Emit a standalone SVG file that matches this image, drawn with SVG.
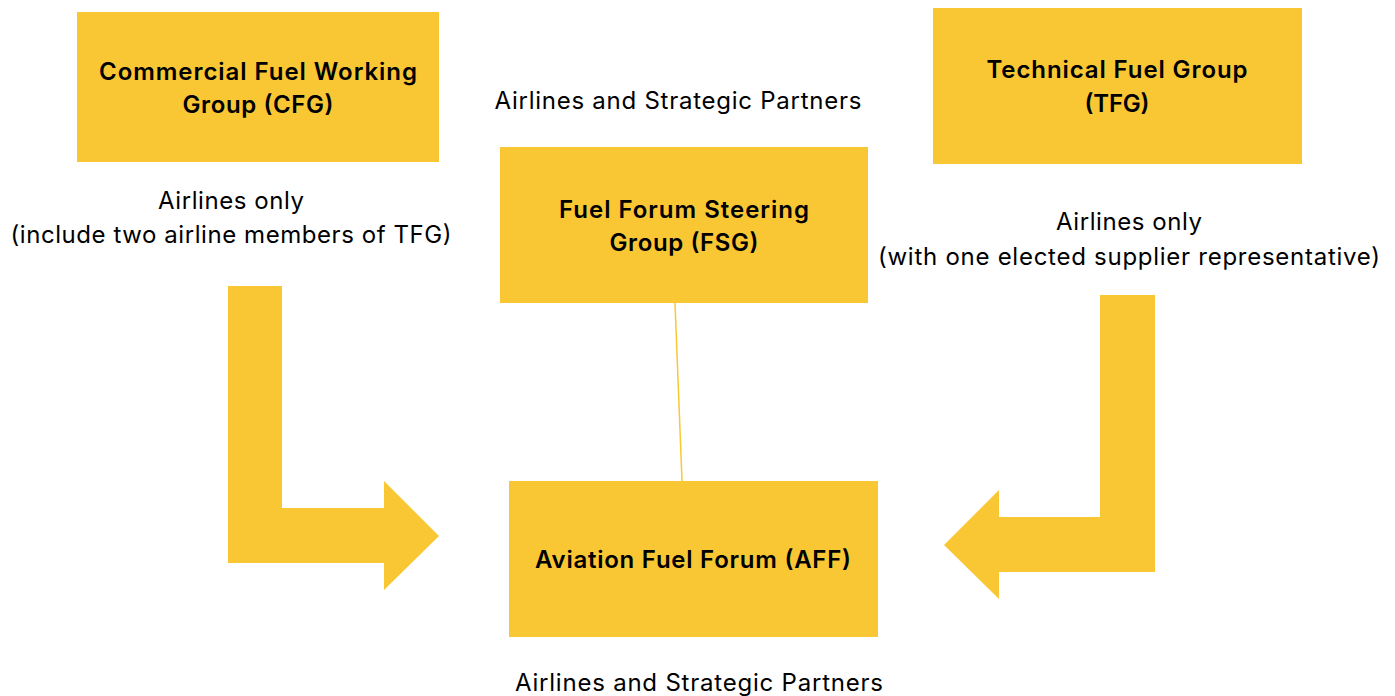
<svg xmlns="http://www.w3.org/2000/svg" width="1395" height="696" viewBox="0 0 1395 696">
<style>
.box{fill:#F9C733}
.arrow{fill:#F9C733}
.t{font-family:Inter,"Liberation Sans",sans-serif;font-size:24px;fill:#000;text-anchor:middle}
.b{font-weight:600}
</style>
<rect width="1395" height="696" fill="#fff"/>
<g id="connectors">
<polygon class="arrow" points="228,286 282,286 282,508 384,508 384,481 439,536 384,590 384,563 228,563"/>
<polygon class="arrow" points="1100,295 1155,295 1155,572 999,572 999,599 944,545 999,490 999,517 1100,517"/>
<line x1="675" y1="303" x2="682" y2="481" stroke="#F9C733" stroke-width="1.5"/>
</g>
<g id="cfg">
<rect class="box" x="77" y="12" width="362" height="150"/>
<text class="t b" x="258" y="80" textLength="318" lengthAdjust="spacing">Commercial Fuel Working</text>
<text class="t b" x="258" y="113" textLength="151" lengthAdjust="spacing">Group (CFG)</text>
</g>
<g id="tfg">
<rect class="box" x="933" y="8" width="369" height="156"/>
<text class="t b" x="1117" y="78" textLength="261" lengthAdjust="spacing">Technical Fuel Group</text>
<text class="t b" x="1117" y="112" textLength="65" lengthAdjust="spacing">(TFG)</text>
</g>
<g id="fsg">
<rect class="box" x="500" y="147" width="368" height="156"/>
<text class="t b" x="684" y="218" textLength="250" lengthAdjust="spacing">Fuel Forum Steering</text>
<text class="t b" x="684" y="251" textLength="149" lengthAdjust="spacing">Group (FSG)</text>
</g>
<g id="aff">
<rect class="box" x="509" y="481" width="369" height="156"/>
<text class="t b" x="693" y="568" textLength="316" lengthAdjust="spacing">Aviation Fuel Forum (AFF)</text>
</g>
<g id="labels">
<text class="t" x="678" y="109" textLength="367" lengthAdjust="spacing">Airlines and Strategic Partners</text>
<text class="t" x="231" y="209" textLength="146" lengthAdjust="spacing">Airlines only</text>
<text class="t" x="231" y="243" textLength="441" lengthAdjust="spacing">(include two airline members of TFG)</text>
<text class="t" x="1129" y="230" textLength="146" lengthAdjust="spacing">Airlines only</text>
<text class="t" x="1129" y="265" textLength="502" lengthAdjust="spacing">(with one elected supplier representative)</text>
<text class="t" x="699" y="691" textLength="368" lengthAdjust="spacing">Airlines and Strategic Partners</text>
</g>
</svg>
